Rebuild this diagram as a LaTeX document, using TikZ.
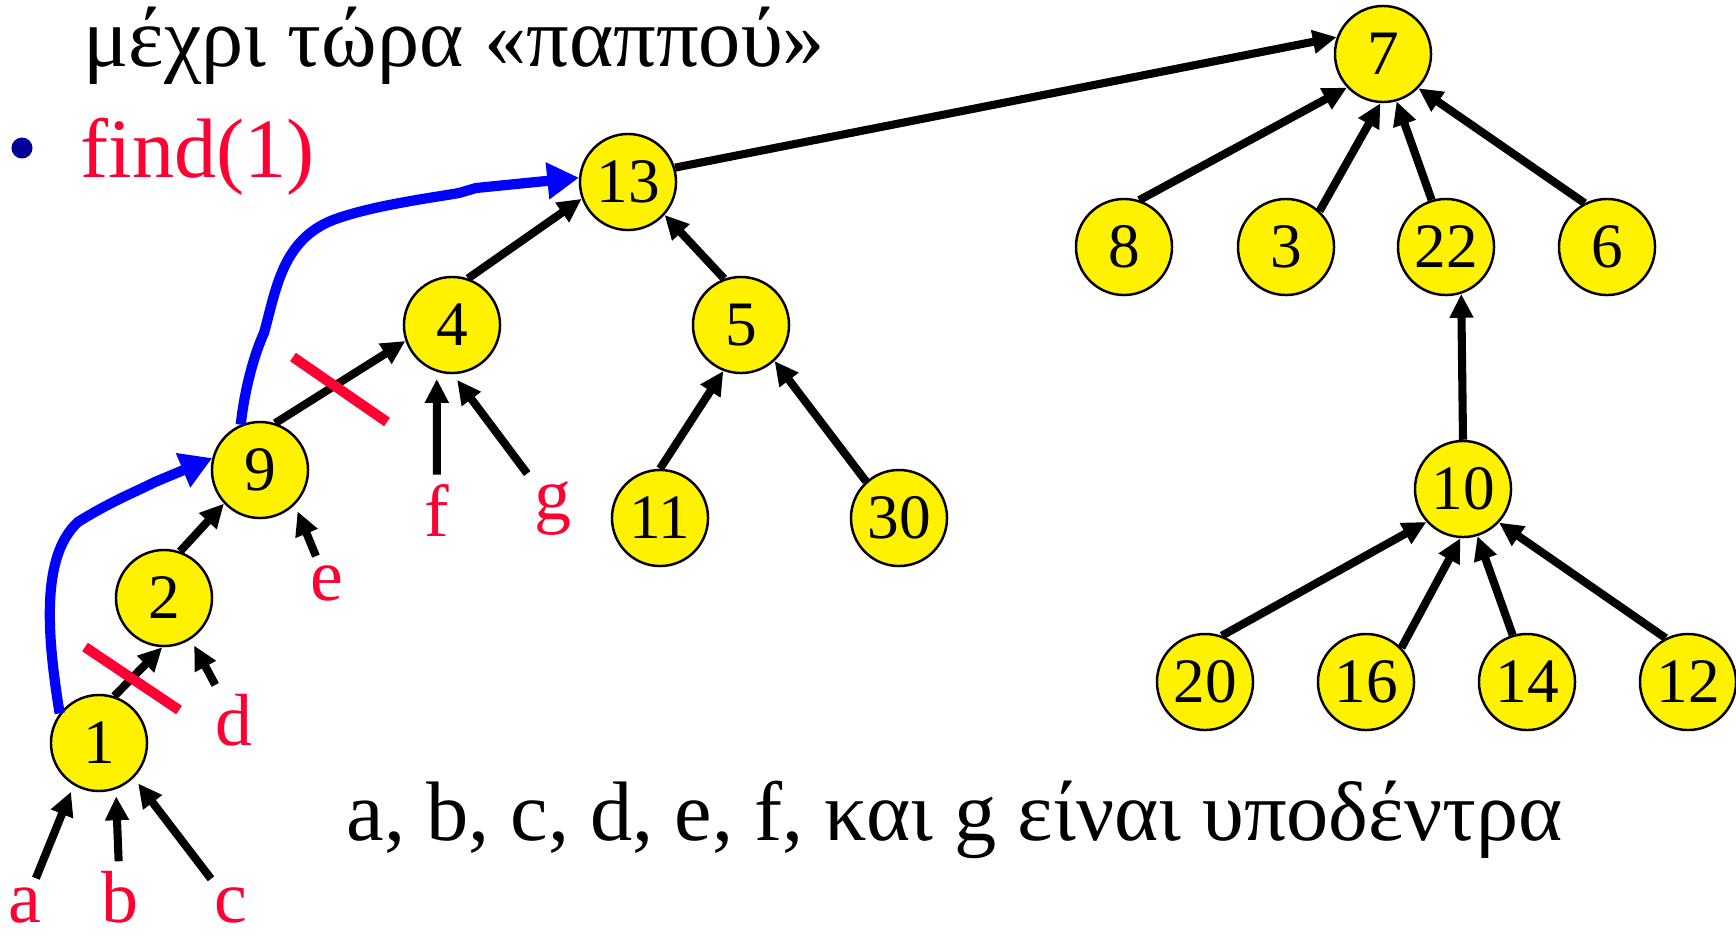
\documentclass[tikz,border=0pt]{standalone}
\usepackage{fontspec}
\setmainfont{Liberation Serif}
\usetikzlibrary{arrows.meta}

\definecolor{labred}{RGB}{255,0,51}
\definecolor{pathblue}{RGB}{0,0,255}
\definecolor{dotblue}{RGB}{0,0,153}

\begin{document}
\begin{tikzpicture}[x=0.01cm,y=-0.01cm,>={Triangle[length=6.8pt,width=6.4pt]},line join=round,
  uf/.style={circle,draw,line width=0.7pt,fill=yellow,minimum size=0.96cm,inner sep=0pt,font=\fontsize{18}{18}\selectfont},
  link/.style={->,line width=2.3pt},
  sub/.style={text=labred,anchor=base,inner sep=1pt,font=\fontsize{21}{21}\selectfont},
  cut/.style={labred,line width=2.9pt},
  findpath/.style={pathblue,line width=2.9pt,-{Triangle[length=9pt,width=10pt]}}]
\useasboundingbox (0,0) rectangle (1736,939);
% --- heading
\node[anchor=base west,inner sep=0pt,font=\fontsize{24}{24}\selectfont] (title) at (83,66) {μέχρι τώρα «παππού»};
\node[circle,fill=dotblue,minimum size=0.21cm,inner sep=0pt] (dot) at (22,148) {};
\node[anchor=base west,inner sep=0pt,text=labred,font=\fontsize{24}{24}\selectfont] (find) at (80,177) {find(1)};
% --- tree nodes
\foreach \n/\x/\y in {7/1383/54, 8/1124/247, 3/1286/247, 22/1446/247, 6/1607/247, 10/1463/489,
  20/1205/682, 16/1366/682, 14/1527/682, 12/1688/682,
  13/628/182, 4/452/325, 5/741/325, 11/660/518, 30/899/518, 9/260/470, 2/164/598, 1/99/743}
  \node[uf] (n\n) at (\x,\y) {\n};
% parent pointers
\foreach \s/\a/\t/\b in {13/17/7/160, 8/72/7/-137, 3/47/7/-93, 22/107/7/-74, 6/117/7/-44,
  10/90/22/-72, 20/70/10/-138, 16/44/10/-93, 14/107/10/-73, 12/117/10/-43,
  4/71/13/-160, 5/110/13/-42, 9/72/4/-161, 11/90/5/-111, 30/132/5/-47, 2/71/9/-137, 1/72/2/-92}
  \draw[link] (n\s.\a) -- (n\t.\b);
% --- subtrees
\foreach \l/\x/\y in {a/25/922, b/120/922, c/231/922, d/234/745, e/327/600, f/437/536, g/553/519}
  \node[sub] (s\l) at (\x,\y) {\l};
\foreach \l/\t/\b in {a/1/-121, b/1/-70, c/1/-45, d/2/-57, e/9/-45, f/4/-108, g/4/-89}
  \draw[link,shorten <=1.5pt,shorten >=2pt] (s\l) -- (n\t.\b);
% --- cut links
\draw[cut] (85,647) -- (179,710);
\draw[cut] (293,357) -- (387,422);
% --- path compression
\draw[findpath] (n1.143) .. controls (46,630) and (42,555) .. (78,522) .. controls (110,502) and (135,492) .. (155,482) -- (n9.166);
\draw[findpath] (n9.113) .. controls (245,385) and (256,350) .. (264,333) .. controls (276,290) and (282,240) .. (333,220)
  .. controls (370,206) and (430,198) .. (459,193) -- (476,188) -- (n13.175);
% --- note
\node[anchor=base west,inner sep=0pt,font=\fontsize{24}{24}\selectfont] (note) at (346,840) {a, b, c, d, e, f, και g είναι υποδέντρα};
\end{tikzpicture}
\end{document}
